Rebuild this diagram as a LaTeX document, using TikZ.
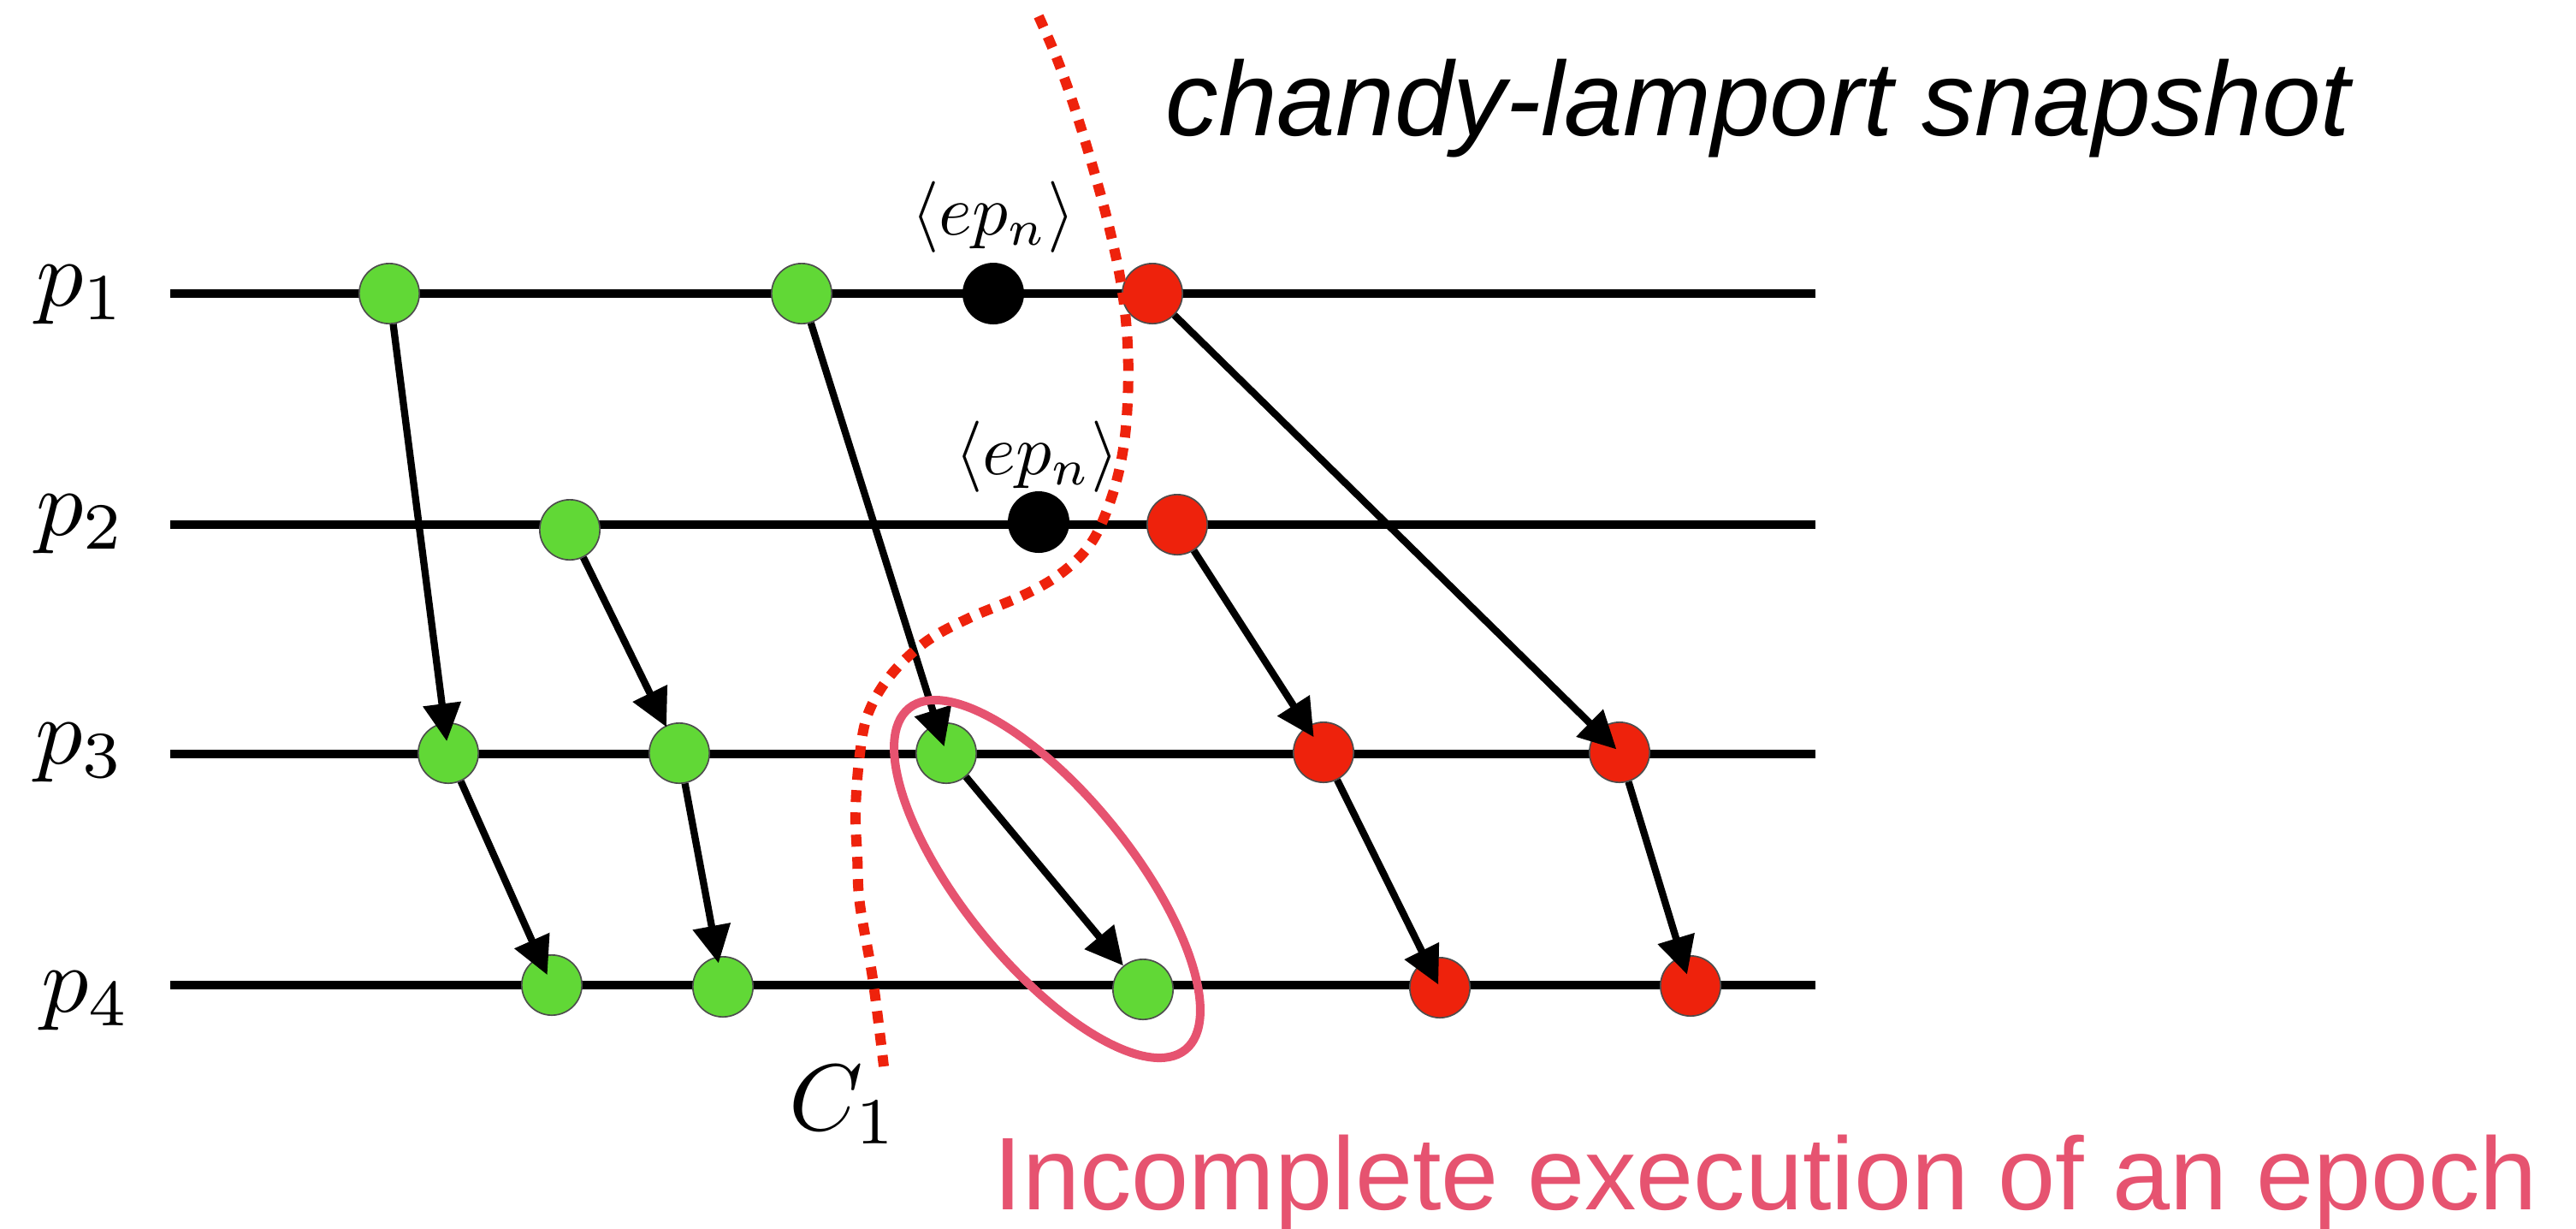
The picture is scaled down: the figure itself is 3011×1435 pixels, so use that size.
\documentclass[tikz,border=0pt]{standalone}
\usepackage{fontspec}
\setsansfont{Liberation Sans}
\usetikzlibrary{arrows.meta}
\definecolor{cgreen}{RGB}{97,216,54}
\definecolor{cred}{RGB}{238,34,12}
\definecolor{cpink}{RGB}{230,83,112}
\definecolor{cborder}{RGB}{77,77,77}
\begin{document}
\begin{tikzpicture}[x=0.3pt,y=-0.3pt,
  proc/.style={line width=3pt},
  ev/.style={circle, draw=cborder, line width=0.5pt, minimum size=21.1pt, inner sep=0pt},
  gev/.style={ev, fill=cgreen},
  rev/.style={ev, fill=cred},
  kev/.style={ev, fill=black, draw=black},
  msg/.style={line width=2.5pt, -{Triangle[length=13.2pt,width=12.9pt]}},
  plabel/.style={anchor=base west, inner sep=0pt, scale=3.3},
  eplabel/.style={anchor=base, inner sep=0pt, scale=2.5},
  cut/.style={cred, line width=3.6pt, dash pattern=on 4.2pt off 3.6pt},
]
\useasboundingbox (0,0) rectangle (3011,1435);

% process lines
\foreach \i/\y in {1/343,2/613,3/881,4/1151}{
  \coordinate (l\i s) at (199,\y);
  \coordinate (l\i e) at (2122,\y);
  \draw[proc] (l\i s) -- (l\i e);
}

% process labels
\node[plabel] (lp1) at (40,357) {$p_1$};
\node[plabel] (lp2) at (40,625) {$p_2$};
\node[plabel] (lp3) at (39,892) {$p_3$};
\node[plabel] (lp4) at (46,1182) {$p_4$};

% events
\node[gev] (p1a) at (455,343) {};
\node[gev] (p1b) at (937,343) {};
\node[kev] (p1k) at (1161,343) {};
\node[rev] (p1r) at (1347,343) {};
\node[gev] (p2a) at (666,619) {};
\node[kev] (p2k) at (1214,610) {};
\node[rev] (p2r) at (1376,613) {};
\node[gev] (p3a) at (524,880) {};
\node[gev] (p3b) at (794,880) {};
\node[gev] (p3c) at (1106,880) {};
\node[rev] (p3r) at (1547,879) {};
\node[rev] (p3s) at (1893,879) {};
\node[gev] (p4a) at (645,1151) {};
\node[gev] (p4b) at (845,1153) {};
\node[gev] (p4c) at (1336,1156) {};
\node[rev] (p4r) at (1683,1154) {};
\node[rev] (p4s) at (1976,1152) {};

% messages
\draw[msg, shorten >=-6.6pt] (p1a) -- (p3a);
\draw[msg, shorten >=-8.4pt] (p1b) -- (p3c);
\draw[msg, shorten >=-9.3pt] (p1r) -- (p3s);
\draw[msg, shorten >=-0.6pt] (p2a) -- (p3b);
\draw[msg, shorten >=-4.5pt] (p2r) -- (p3r);
\draw[msg, shorten >=-6.9pt] (p3a) -- (p4a);
\draw[msg, shorten >=-2.4pt] (p3b) -- (p4b);
\draw[msg] (p3c) -- (p4c);
\draw[msg, shorten >=-9.6pt] (p3r) -- (p4r);
\draw[msg, shorten >=-6.6pt] (p3s) -- (p4s);

% marker labels
\node[eplabel] (ep1) at (1161,274) {$\langle ep_n\rangle$};
\node[eplabel] (ep2) at (1212,554) {$\langle ep_n\rangle$};

% cut C1
\draw[cut] plot[smooth, tension=0.6] coordinates {
  (1214,19) (1236,70) (1257,129) (1279,201) (1297,268) (1311,335)
  (1318,402) (1318,470) (1312,530) (1298,585) (1275,635) (1240,670)
  (1195,696) (1133,722) (1082,750) (1041,789) (1015,833) (1005,881)
  (1000,947) (1002,1000) (1005,1056) (1020,1143) (1033,1246)};
\node[plabel] (c1) at (920,1320) {$C_1$};

% incomplete epoch ellipse
\draw[cpink, line width=3pt, rotate around={-51:(1224,1027)}] (1224,1027) ellipse [x radius=77pt, y radius=29.7pt];

% texts
\node[anchor=base west, inner sep=0pt, font=\fontsize{37}{44}\selectfont\sffamily\itshape] (title) at (1362,158) {chandy-lamport snapshot};
\node[anchor=base west, inner sep=0pt, text=cpink, font=\fontsize{36.2}{44}\selectfont\sffamily] (note) at (1161,1413) {Incomplete execution of an epoch};
\end{tikzpicture}
\end{document}
